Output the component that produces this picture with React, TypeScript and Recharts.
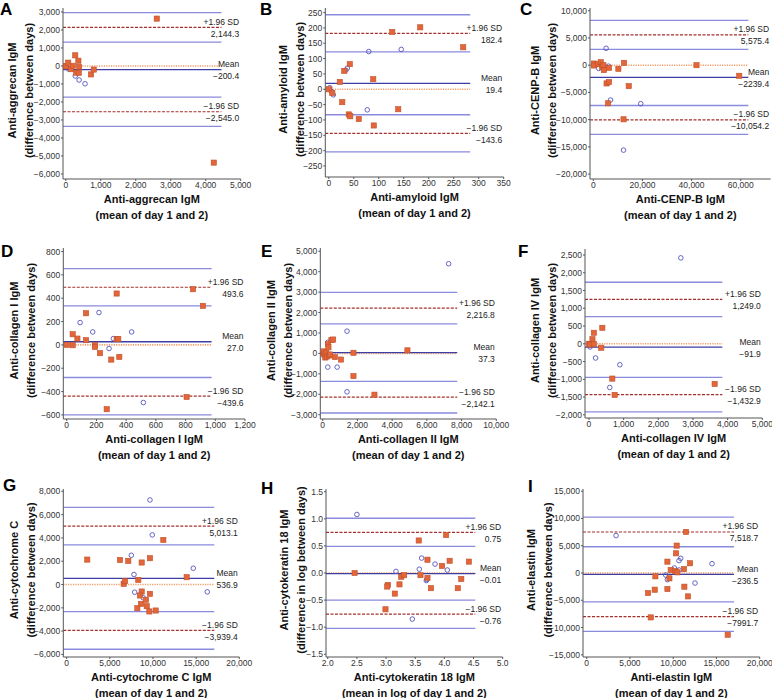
import { ScatterChart, Scatter, XAxis, YAxis, ReferenceLine } from "recharts";

const FONT = '"Liberation Sans", Arial, Helvetica, sans-serif';
const CI_BLUE = "#8a8ade";
const MEAN_BLUE = "#3d3da6";
const LOA_RED = "#a3302c";
const ZERO_ORANGE = "#f39c66";

type Pt = { x: number; y: number };
const toPts = (rows: number[][]): Pt[] => rows.map(([x, y]) => ({ x, y }));

// ---- A: aggrecan ----
const aggrecanSquares = toPts([[0, 0], [10, -20], [70, 185], [150, -180], [200, 10], [270, 590], [300, -370], [360, 290], [380, -50], [370, -380], [720, -470], [800, -200], [2600, 2630], [4230, -5370]]);
const aggrecanCircles = toPts([[80, -170], [270, -560], [380, -780], [550, -990]]);
const aggrecanLimits = [-200.4, 2144.3, -2545.0];
const aggrecanLabels = ["\u2212200.4", "2,144.3", "\u22122,545.0"];
const aggrecanXTicks = [0, 1000, 2000, 3000, 4000, 5000];
const aggrecanYTicks = [3000, 2000, 1000, 0, -1000, -2000, -3000, -4000, -5000, -6000];

// ---- B: amyloid ----
const amyloidSquares = toPts([[127, 187], [183, 202], [269, 137], [42, 82], [31, 60], [89, 33], [22, 24], [0, 0], [7, -12], [27, -42], [40, -82], [43, -88], [60, -97], [90, -118], [139, -65]]);
const amyloidCircles = toPts([[80, 123], [145, 130], [37, 69], [34, 62], [2, 5], [5, -7], [9, -18], [77, -67]]);
const amyloidLimits = [19.4, 182.4, -143.6];
const amyloidLabels = ["19.4", "182.4", "\u2212143.6"];
const amyloidXTicks = [0, 50, 100, 150, 200, 250, 300, 350];
const amyloidYTicks = [250, 200, 150, 100, 50, 0, -50, -100, -150, -200, -250];

// ---- C: CENP-B ----
const cenpSquares = toPts([[270, 300], [270, -60], [2000, 200], [3000, 550], [3500, -300], [4100, 0], [4300, -900], [6400, -490], [10200, -670], [12500, 430], [42000, 0], [59400, -1950], [5400, -3350], [6400, -3100], [6000, -7000], [14400, -3840], [12300, -9940]]);
const cenpCircles = toPts([[5200, 3100], [2200, -600], [6200, -180], [7000, -6400], [19300, -7070], [12300, -15600]]);
const cenpLimits = [-2239.4, 5575.4, -10054.2];
const cenpLabels = ["\u22122239.4", "5,575.4", "\u221210,054.2"];
const cenpXTicks = [0, 20000, 40000, 60000];
const cenpYTicks = [10000, 5000, 0, -5000, -10000, -15000, -20000];

// ---- D: collagen I ----
const col1Squares = toPts([[0, 0], [40, 91], [40, -3], [72, 54], [130, 271], [130, 40], [190, 0], [190, -17], [224, -71], [300, -126], [336, 440], [336, 49], [347, 49], [354, -103], [850, 477], [917, 334], [807, -446], [269, -551]]);
const col1Circles = toPts([[90, 191], [175, 111], [217, 277], [314, 54], [285, -31], [437, 111], [516, -494]]);
const col1Limits = [27.0, 493.6, -439.6];
const col1Labels = ["27.0", "493.6", "\u2212439.6"];
const col1XTicks = [0, 200, 400, 600, 800, 1000, 1200];
const col1YTicks = [800, 600, 400, 200, 0, -200, -400, -600];

// ---- E: collagen II ----
const col2Squares = toPts([[30, 0], [60, 100], [100, -60], [150, -200], [200, 30], [250, -150], [300, 450], [330, 300], [380, -100], [420, -50], [500, 650], [600, 680], [700, -180], [1050, -300], [1770, 30], [1770, -1110], [2980, -2020], [4880, 150]]);
const col2Circles = toPts([[100, -80], [200, -120], [290, 540], [290, -670], [830, -670], [1400, 1090], [1400, -1880], [7255, 4390]]);
const col2Limits = [37.3, 2216.8, -2142.1];
const col2Labels = ["37.3", "2,216.8", "\u22122,142.1"];
const col2XTicks = [0, 2000, 4000, 6000, 8000, 10000];
const col2YTicks = [5000, 4000, 3000, 2000, 1000, 0, -1000, -2000, -3000];

// ---- F: collagen IV ----
const col4Squares = toPts([[0, 0], [30, -20], [100, 130], [140, 310], [140, -10], [385, 450], [355, -110], [673, -980], [740, -1440], [3625, -1130]]);
const col4Circles = toPts([[30, -90], [190, -400], [600, -1230], [890, -590], [2650, 2420]]);
const col4Limits = [-91.9, 1249.0, -1432.9];
const col4Labels = ["\u221291.9", "1,249.0", "\u22121,432.9"];
const col4XTicks = [0, 1000, 2000, 3000, 4000, 5000];
const col4YTicks = [2500, 2000, 1500, 1000, 500, 0, -500, -1000, -1500, -2000];

// ---- G: cytochrome C ----
const cytoSquares = toPts([[2390, 2140], [6180, 2110], [7140, 2030], [8690, 1890], [9650, 2260], [11200, 3830], [13900, 630], [6600, 60], [6760, 290], [8300, 400], [8690, -600], [8490, -940], [9650, -800], [9190, -1310], [8610, -1660], [9270, -1860], [8190, -2030], [9580, -2310], [10310, -2230]]);
const cytoCircles = toPts([[9650, 7260], [9920, 4260], [7490, 2510], [7800, 860], [7880, -660], [8880, -1140], [14670, 1400], [16290, -630]]);
const cytoLimits = [536.9, 5013.1, -3939.4];
const cytoLabels = ["536.9", "5,013.1", "\u22123,939.4"];
const cytoXTicks = [0, 5000, 10000, 15000, 20000];
const cytoYTicks = [8000, 6000, 4000, 2000, 0, -2000, -4000, -6000];

// ---- H: cytokeratin 18 (log) ----
const ck18Squares = toPts([[2.46, 0], [3.56, 0.6], [4.03, 0.7], [3.71, 0.245], [4.09, 0.225], [4.42, 0.21], [3.96, 0.13], [3.03, -0.22], [3.02, -0.25], [3.23, -0.21], [3.26, -0.07], [3.31, -0.04], [3.15, -0.38], [3.59, -0.04], [3.71, -0.09], [3.77, -0.28], [4.29, -0.11], [4.23, -0.28], [2.99, -0.67]]);
const ck18Circles = toPts([[2.5, 1.08], [3.17, 0.03], [3.61, 0.275], [3.57, 0.07], [3.84, 0.165], [3.69, -0.14], [3.7, -0.12], [4.05, 0.055], [3.45, -0.85]]);
const ck18Limits = [-0.01, 0.75, -0.76];
const ck18Labels = ["\u22120.01", "0.75", "\u22120.76"];
const ck18XTicks = [2.0, 2.5, 3.0, 3.5, 4.0, 4.5, 5.0];
const ck18YTicks = [1.5, 1.0, 0.5, 0.0, -0.5, -1.0, -1.5];

// ---- I: elastin ----
const elastinSquares = toPts([[11480, 7530], [10400, 5020], [10330, 3610], [9330, 2080], [11950, 1780], [11250, 730], [9710, 550], [10250, 370], [10480, 120], [7940, -610], [9560, -980], [7090, -3670], [7860, -3060], [9330, -2940], [11290, -2510], [11710, -4290], [7400, -8140], [16300, -11330]]);
const elastinCircles = toPts([[3390, 6860], [10870, 2690], [10670, 2270], [10130, 920], [10670, 550], [9130, -370], [9330, -1220], [12520, -1840], [14490, 1710]]);
const elastinLimits = [-236.5, 7518.7, -7991.7];
const elastinLabels = ["\u2212236.5", "7,518.7", "\u22127991.7"];
const elastinXTicks = [0, 5000, 10000, 15000, 20000];
const elastinYTicks = [15000, 10000, 5000, 0, -5000, -10000, -15000];

// half-width of the CI band around each limit of agreement
const ciHalf = [816, 60.6, 2655, 160, 774, 485, 1615, 0.26, 2710];
// where the horizontal lines stop on the x axis
const lineEnds = [4450, 283, 63100, 975, 7750, 3846, 17100, 4.53, 17030];

const fmt = (digits: number) => (v: number) => {
  const s = digits > 0 ? Math.abs(v).toFixed(digits) : Math.abs(v).toLocaleString("en-US");
  return v < 0 ? "\u2212" + s : s;
};

type Panel = {
  letter: string; ox: number; oy: number; w: number; h: number;
  left: number; right: number; top: number; bottom: number;
  xDomain: [number, number]; yDomain: [number, number];
  xTicks: number[]; yTicks: number[]; digits: number;
  squares: Pt[]; circles: Pt[]; limits: number[]; labels: string[];
  ci: number; lineEnd: number;
  xTitle: string[]; yTitle: string[]; yTitleX: [number, number];
  letterX: number; letterY: number;
};

const meanTitle = "(mean of day 1 and 2)";
const diffTitle = "(difference between days)";

const panels: Panel[] = [
  { letter: "A", ox: 0, oy: 0, w: 257, h: 232, left: 63, right: 240.7, top: 8, bottom: 179, xDomain: [-80, 5000], yDomain: [-6280, 3220], xTicks: aggrecanXTicks, yTicks: aggrecanYTicks, digits: 0, squares: aggrecanSquares, circles: aggrecanCircles, limits: aggrecanLimits, labels: aggrecanLabels, ci: ciHalf[0], lineEnd: lineEnds[0], xTitle: ["Anti-aggrecan IgM", meanTitle], yTitle: ["Anti-aggrecan IgM", diffTitle], yTitleX: [12, 29], letterX: 0, letterY: 15 },
  { letter: "B", ox: 257, oy: 0, w: 257, h: 232, left: 68.3, right: 246.7, top: 8, bottom: 177, xDomain: [-7, 350], yDomain: [-286, 265], xTicks: amyloidXTicks, yTicks: amyloidYTicks, digits: 0, squares: amyloidSquares, circles: amyloidCircles, limits: amyloidLimits, labels: amyloidLabels, ci: ciHalf[1], lineEnd: lineEnds[1], xTitle: ["Anti-amyloid IgM", meanTitle], yTitle: ["Anti-amyloid IgM", diffTitle], yTitleX: [26, 43], letterX: 3, letterY: 15 },
  { letter: "C", ox: 514, oy: 0, w: 258, h: 232, left: 76, right: 256.7, top: 8, bottom: 179, xDomain: [-1350, 72200], yDomain: [-20900, 10500], xTicks: cenpXTicks, yTicks: cenpYTicks, digits: 0, squares: cenpSquares, circles: cenpCircles, limits: cenpLimits, labels: cenpLabels, ci: ciHalf[2], lineEnd: lineEnds[2], xTitle: ["Anti-CENP-B IgM", meanTitle], yTitle: ["Anti-CENP-B IgM", diffTitle], yTitleX: [21, 38], letterX: 6, letterY: 15 },
  { letter: "D", ox: 0, oy: 232, w: 257, h: 232, left: 63.3, right: 245, top: 16, bottom: 187, xDomain: [-23, 1200], yDomain: [-635, 830], xTicks: col1XTicks, yTicks: col1YTicks, digits: 0, squares: col1Squares, circles: col1Circles, limits: col1Limits, labels: col1Labels, ci: ciHalf[3], lineEnd: lineEnds[3], xTitle: ["Anti-collagen I IgM", meanTitle], yTitle: ["Anti-collagen I IgM", diffTitle], yTitleX: [14, 31], letterX: 1, letterY: 25 },
  { letter: "E", ox: 257, oy: 232, w: 257, h: 232, left: 63.3, right: 239.3, top: 16, bottom: 187, xDomain: [-140, 10000], yDomain: [-3210, 5160], xTicks: col2XTicks, yTicks: col2YTicks, digits: 0, squares: col2Squares, circles: col2Circles, limits: col2Limits, labels: col2Labels, ci: ciHalf[4], lineEnd: lineEnds[4], xTitle: ["Anti-collagen II IgM", meanTitle], yTitle: ["Anti-collagen II IgM", diffTitle], yTitleX: [14, 31], letterX: 4, letterY: 25 },
  { letter: "F", ox: 514, oy: 232, w: 258, h: 232, left: 71, right: 248.3, top: 17, bottom: 186, xDomain: [-115, 5000], yDomain: [-2090, 2670], xTicks: col4XTicks, yTicks: col4YTicks, digits: 0, squares: col4Squares, circles: col4Circles, limits: col4Limits, labels: col4Labels, ci: ciHalf[5], lineEnd: lineEnds[5], xTitle: ["Anti-collagen IV IgM", meanTitle], yTitle: ["Anti-collagen IV IgM", diffTitle], yTitleX: [21, 38], letterX: 4, letterY: 25 },
  { letter: "G", ox: 0, oy: 464, w: 257, h: 234, left: 63.3, right: 239.3, top: 25, bottom: 193, xDomain: [-390, 20000], yDomain: [-6220, 8200], xTicks: cytoXTicks, yTicks: cytoYTicks, digits: 0, squares: cytoSquares, circles: cytoCircles, limits: cytoLimits, labels: cytoLabels, ci: ciHalf[6], lineEnd: lineEnds[6], xTitle: ["Anti-cytochrome C IgM", meanTitle], yTitle: ["Anti-cytochrome C", diffTitle], yTitleX: [14, 31], letterX: 3, letterY: 27 },
  { letter: "H", ox: 257, oy: 464, w: 257, h: 234, left: 69, right: 245.7, top: 25, bottom: 193, xDomain: [1.97, 5.0], yDomain: [-1.55, 1.55], xTicks: ck18XTicks, yTicks: ck18YTicks, digits: 1, squares: ck18Squares, circles: ck18Circles, limits: ck18Limits, labels: ck18Labels, ci: ciHalf[7], lineEnd: lineEnds[7], xTitle: ["Anti-cytokeratin 18 IgM", "(mean in log of day 1 and 2)"], yTitle: ["Anti-cytokeratin 18 IgM", "(difference in log between days)"], yTitleX: [27, 44], letterX: 4, letterY: 30 },
  { letter: "I", ox: 514, oy: 464, w: 258, h: 234, left: 69, right: 245.7, top: 25, bottom: 193, xDomain: [-430, 20000], yDomain: [-15400, 15400], xTicks: elastinXTicks, yTicks: elastinYTicks, digits: 0, squares: elastinSquares, circles: elastinCircles, limits: elastinLimits, labels: elastinLabels, ci: ciHalf[8], lineEnd: lineEnds[8], xTitle: ["Anti-elastin IgM", meanTitle], yTitle: ["Anti-elastin IgM", diffTitle], yTitleX: [17, 34], letterX: 14, letterY: 28 },
];

const Square = (props: any) => (
  <rect x={props.cx - 2.6} y={props.cy - 2.6} width={5.2} height={5.2} fill="#e2663a" stroke="#c0502a" strokeWidth={0.6} />
);
const Ring = (props: any) => (
  <circle cx={props.cx} cy={props.cy} r={2.3} fill="none" stroke="#5656c0" strokeWidth={0.9} />
);

const limitLabel = (top: string, bottom: string) => (props: any) => {
  const vb = props.viewBox || {};
  const x = vb.x + vb.width - 1.5;
  const y = vb.y;
  return (
    <g>
      <text x={x} y={y - 2.5} textAnchor="end" fontSize={8.5} fill="#222" fontFamily={FONT}>{top}</text>
      <text x={x} y={y + 9.5} textAnchor="end" fontSize={8.5} fill="#222" fontFamily={FONT}>{bottom}</text>
    </g>
  );
};

const tickStyle = { fontSize: 8.5, fill: "#333", fontFamily: FONT };

function BlandAltman({ p }: { p: Panel }) {
  const [mean, upper, lower] = p.limits;
  const seg = (y: number) => [{ x: p.xDomain[0], y }, { x: p.lineEnd, y }];
  const f = fmt(p.digits);
  const cy = (p.top + p.bottom) / 2 - 3;
  const cx = (p.left + p.right) / 2;
  return (
    <div style={{ position: "absolute", left: p.ox, top: p.oy, width: p.w, height: p.h }}>
      <ScatterChart width={p.w} height={p.h} margin={{ top: p.top, right: p.w - p.right, bottom: 0, left: 0 }}>
        <XAxis type="number" dataKey="x" domain={p.xDomain} ticks={p.xTicks} interval={0} tickFormatter={f}
          tick={tickStyle} tickSize={2} tickMargin={1} height={p.h - p.bottom} stroke="#555" allowDataOverflow />
        <YAxis type="number" dataKey="y" domain={p.yDomain} ticks={p.yTicks} interval={0} tickFormatter={f}
          tick={tickStyle} tickSize={2} tickMargin={1} width={p.left} stroke="#555" allowDataOverflow />
        <ReferenceLine segment={seg(upper + p.ci)} stroke={CI_BLUE} strokeWidth={1.3} />
        <ReferenceLine segment={seg(upper - p.ci)} stroke={CI_BLUE} strokeWidth={1.3} />
        <ReferenceLine segment={seg(lower + p.ci)} stroke={CI_BLUE} strokeWidth={1.3} />
        <ReferenceLine segment={seg(lower - p.ci)} stroke={CI_BLUE} strokeWidth={1.3} />
        <ReferenceLine segment={seg(upper)} stroke={LOA_RED} strokeWidth={1.2} strokeDasharray="3 1.5" />
        <ReferenceLine segment={seg(lower)} stroke={LOA_RED} strokeWidth={1.2} strokeDasharray="3 1.5" />
        <ReferenceLine segment={seg(0)} stroke={ZERO_ORANGE} strokeWidth={1.6} strokeDasharray="1.2 1.2" />
        <ReferenceLine segment={seg(mean)} stroke={MEAN_BLUE} strokeWidth={1.3} />
        <ReferenceLine y={upper} stroke="none" label={limitLabel("+1.96 SD", p.labels[1])} />
        <ReferenceLine y={mean} stroke="none" label={limitLabel("Mean", p.labels[0])} />
        <ReferenceLine y={lower} stroke="none" label={limitLabel("\u22121.96 SD", p.labels[2])} />
        <Scatter data={p.circles} shape={Ring} isAnimationActive={false} />
        <Scatter data={p.squares} shape={Square} isAnimationActive={false} />
      </ScatterChart>
      <svg width={p.w} height={p.h} style={{ position: "absolute", left: 0, top: 0, pointerEvents: "none" }}>
        <text x={p.letterX} y={p.letterY} fontSize={17} fontWeight="bold" fontFamily={FONT} fill="#000">{p.letter}</text>
        {p.yTitle.map((t, i) => (
          <text key={t} transform={`translate(${p.yTitleX[i]},${cy}) rotate(-90)`} textAnchor="middle" dy="0.35em"
            fontSize={11} fontWeight="bold" fontFamily={FONT} fill="#111">{t}</text>
        ))}
        {p.xTitle.map((t, i) => (
          <text key={t} x={cx} y={p.bottom + 20 + i * 16} textAnchor="middle" dy="0.35em"
            fontSize={11} fontWeight="bold" fontFamily={FONT} fill="#111">{t}</text>
        ))}
      </svg>
    </div>
  );
}

export default function App() {
  return (
    <div style={{ position: "absolute", left: 0, top: 0, width: 772, height: 698, background: "#fff" }}>
      {panels.map((p) => (
        <BlandAltman key={p.letter} p={p} />
      ))}
    </div>
  );
}
